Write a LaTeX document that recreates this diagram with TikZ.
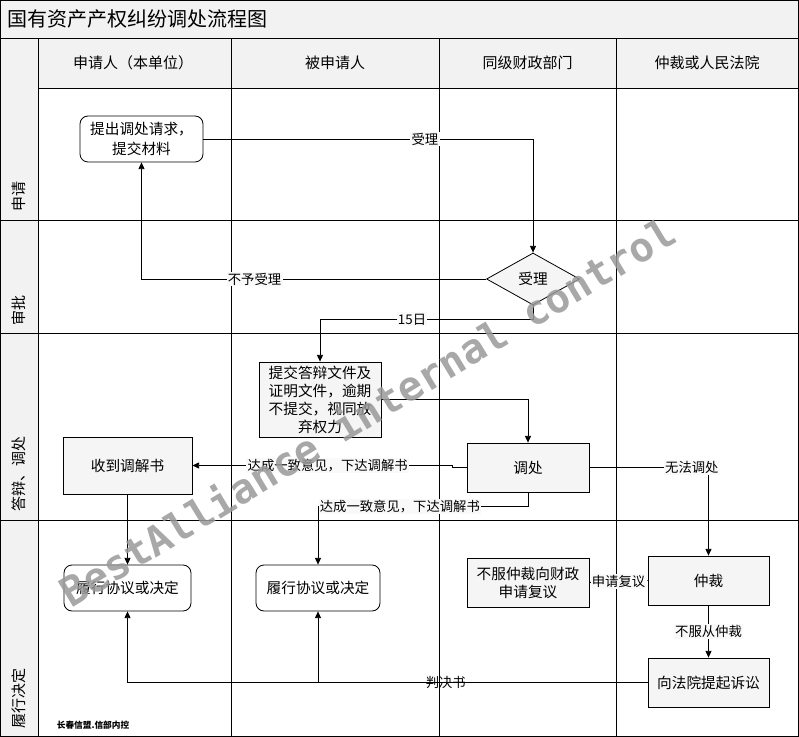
\documentclass[tikz,border=0pt]{standalone}
\usepackage{fontspec}
\setmainfont{Noto Sans CJK SC}
\newfontfamily\wmfont{DejaVu Sans Mono}
\usetikzlibrary{shapes.geometric,arrows.meta}
\definecolor{lanegray}{HTML}{F2F2F2}
\definecolor{boxgray}{HTML}{F5F5F5}
\definecolor{labelgray}{HTML}{F9F9F9}

\begin{document}
\begin{tikzpicture}[x=0.75pt, y=-0.75pt, line width=0.6pt,
    >={Triangle[length=5pt,width=4.5pt]},
    box/.style={draw, fill=boxgray, align=center, inner sep=1pt, font=\fontsize{11}{13.5}\selectfont},
    roundbox/.style={box, fill=white, rounded corners=6pt},
    decision/.style={draw, diamond, fill=boxgray, inner sep=0pt, font=\fontsize{11}{13}\selectfont},
    edgelabel/.style={fill=labelgray, inner sep=1pt, font=\fontsize{10}{12}\selectfont},
    plainlabel/.style={inner sep=1pt, font=\fontsize{10}{12}\selectfont},
    header/.style={font=\fontsize{11.25}{13}\selectfont},
    lanelabel/.style={header, rotate=90, anchor=west}]
	\useasboundingbox (0,0) rectangle (799,737);
	
	% Lanes and title bar
	\fill[lanegray] (0,0) rectangle (798,38);
	\fill[lanegray] (0,38) rectangle (38,736);
	\fill[lanegray] (38,38) rectangle (798,88);
	\draw (0.5,0.5) rectangle (798,736);
	\draw (0,38) -- (798,38);
	\draw (38,88) -- (798,88);
	\draw (0,220) -- (798,220);
	\draw (0,333) -- (798,333);
	\draw (0,520) -- (798,520);
	\foreach \x in {38,231,439,616}
		\draw (\x,38) -- (\x,736);
	
	\node[anchor=west, font=\fontsize{15}{18}\selectfont] (title) at (3,19) {国有资产产权纠纷调处流程图};
	\node[header] (colA) at (133,63) {申请人（本单位）};
	\node[header] (colB) at (335,63) {被申请人};
	\node[header] (colC) at (527.5,63) {同级财政部门};
	\node[header] (colD) at (707,63) {仲裁或人民法院};
	\node[lanelabel] (laneA) at (19,216) {申请};
	\node[lanelabel] (laneB) at (19,330) {审批};
	\node[lanelabel] (laneC) at (19,516) {答辩、调处};
	\node[lanelabel] (laneD) at (19,733) {履行决定};
	
	% Steps
	\node[roundbox, minimum width=92.25pt, minimum height=34.5pt, font=\fontsize{11}{15}\selectfont] (req) at (141.5,139) {提出调处请求，\\提交材料};
	\node[decision, minimum width=69.75pt, minimum height=39pt] (accept) at (533,279) {受理};
	\node[box, minimum width=91.5pt, minimum height=56.25pt] (reply) at (320,399.5) {提交答辩文件及\\证明文件，逾期\\不提交，视同放\\弃权力};
	\node[box, minimum width=96.75pt, minimum height=42.75pt] (recv) at (127.5,465.5) {收到调解书};
	\node[box, minimum width=91.5pt, minimum height=36.75pt] (mediate) at (528,467.5) {调处};
	\node[roundbox, minimum width=95.25pt, minimum height=34.5pt] (performA) at (127.5,588) {履行协议或决定};
	\node[roundbox, minimum width=93pt, minimum height=34.5pt] (performB) at (318,588) {履行协议或决定};
	\node[box, minimum width=91.5pt, minimum height=36.75pt] (review) at (528,582.5) {不服仲裁向财政\\申请复议};
	\node[box, minimum width=90.75pt, minimum height=36.75pt] (arbitrate) at (708.5,580.5) {仲裁};
	\node[box, minimum width=90.75pt, minimum height=36.75pt] (court) at (708.5,682.5) {向法院提起诉讼};
	
	% Connectors
	\draw[->] (req.east) -| node[edgelabel, pos=0.336] {受理} (accept.north);
	\draw[->] (accept.west) -| node[edgelabel, pos=0.336] {不予受理} (req.south);
	\draw[->] (accept.south) -- ++(0,14) -| node[edgelabel, pos=0.284] {15日} (reply.north);
	\draw[->] (reply.east) -| (mediate.north);
	\draw[->] (mediate.west) -- ++(-14,0) |- node[edgelabel, pos=0.74] {达成一致意见，下达调解书} (recv.east);
	\draw[->] (mediate.south) -- ++(0,14) -| node[edgelabel, pos=0.305] {达成一致意见，下达调解书} (performB.north);
	\draw[->] (recv.south) -- (performA.north);
	\draw[->] (mediate.east) -| node[edgelabel, pos=0.43] {无法调处} (arbitrate.north);
	\draw[->] (arbitrate.west) -- node[edgelabel] {申请复议} (review.east);
	\draw[->] (arbitrate.south) -- node[edgelabel] {不服从仲裁} (court.north);
	\draw[->] (court.west) -| node[plainlabel, pos=0.194] {判决书} (performA.south);
	\draw[->] (court.west) -| (performB.south);
	
	\node[anchor=west, font=\fontsize{6.5}{8}\bfseries] (sign) at (52,725) {长春信盟.信部内控};
	
	% Watermark
	\node[rotate=31.2, text=black!40, opacity=0.85, font=\wmfont\bfseries\fontsize{30.5}{34}\selectfont] (mark) at (367,411) {BestAlliance internal control};
\end{tikzpicture}
\end{document}
